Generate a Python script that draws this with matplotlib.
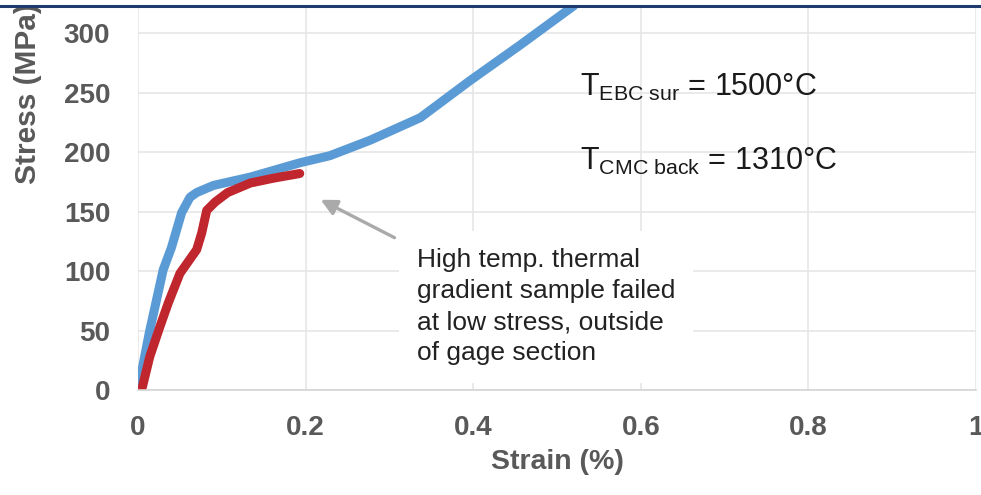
import matplotlib
matplotlib.use("Agg")
import matplotlib.pyplot as plt
from matplotlib.lines import Line2D

plt.rcParams['font.family'] = ['Liberation Sans', 'DejaVu Sans']
plt.rcParams['mathtext.fontset'] = 'custom'
plt.rcParams['mathtext.rm'] = 'Liberation Sans'
plt.rcParams['mathtext.it'] = 'Liberation Sans'

# blue curve (strain %, stress MPa)
blue_strain = [0.0, 0.014, 0.030, 0.040, 0.052, 0.062, 0.070, 0.090, 0.134,
               0.193, 0.229, 0.277, 0.337, 0.396, 0.456, 0.52]
blue_stress = [0, 50, 101, 120, 149, 162, 166, 172, 179,
               191, 197, 210, 229, 260, 290, 323]

# red curve (failed sample)
red_strain = [0.005, 0.014, 0.026, 0.036, 0.050, 0.070, 0.076, 0.082, 0.092,
              0.107, 0.134, 0.161, 0.193]
red_stress = [2, 28, 53, 73, 98, 118, 132, 151, 158,
              166, 174, 178, 182]

x_ticks = [0, 0.2, 0.4, 0.6, 0.8, 1]
x_labels = ['0', '0.2', '0.4', '0.6', '0.8', '1']
y_ticks = [0, 50, 100, 150, 200, 250, 300]

fig = plt.figure(figsize=(9.81, 4.95), dpi=100)
ax = fig.add_axes([0.1407, 0.2121, 0.8542, 0.7738])

# grid
ax.set_xlim(0, 1)
ax.set_ylim(0, 322)
ax.set_xticks(x_ticks)
ax.set_xticklabels(x_labels)
ax.set_yticks(y_ticks)
ax.grid(True, color='#e6e6e6', linewidth=1.2)
ax.set_axisbelow(True)
for side in ['top', 'right', 'left']:
    ax.spines[side].set_visible(False)
ax.spines['bottom'].set_color('#d4d4d4')
ax.spines['bottom'].set_linewidth(1.2)
ax.tick_params(length=0, labelsize=20, labelcolor='#595959')
ax.tick_params(axis='y', pad=20)
ax.tick_params(axis='x', pad=18)
for lab in ax.get_xticklabels() + ax.get_yticklabels():
    lab.set_fontweight('bold')

# curves
ax.plot(blue_strain, blue_stress, color='#5b9bd5', linewidth=6.5,
        solid_capstyle='round', solid_joinstyle='round')
ax.plot(red_strain, red_stress, color='#c0262d', linewidth=6.5,
        solid_capstyle='round', solid_joinstyle='round')

# labels
ax.set_xlabel('Strain (%)', fontsize=20.5, fontweight='bold', color='#595959')
ax.xaxis.set_label_coords(0.5, -0.155)
ax.set_ylabel('Stress (MPa)', fontsize=21.5, fontweight='bold', color='#595959')
ax.yaxis.set_label_coords(-0.115, 0.773)

# temperature notes
ax.text(0.527, 247, r'T$_{\mathrm{EBC\ sur}}$ = 1500°C', fontsize=22,
        color='#1a1a1a', va='baseline')
ax.text(0.527, 185, r'T$_{\mathrm{CMC\ back}}$ = 1310°C', fontsize=22,
        color='#1a1a1a', va='baseline')

# failure note with arrow
ax.annotate('', xy=(0.215, 161), xytext=(0.309, 127),
            arrowprops=dict(arrowstyle='-|>', color='#aaaaaa', lw=2.4,
                            mutation_scale=24))
ax.text(0.333, 119, 'High temp. thermal\ngradient sample failed\n'
        'at low stress, outside\nof gage section',
        fontsize=19, color='#222222', va='top', linespacing=1.36,
        bbox=dict(facecolor='white', edgecolor='none', pad=13))

# navy rule across the top
fig.add_artist(Line2D([0, 1], [1 - 6 / 495, 1 - 6 / 495],
                      color='#1f3a6e', linewidth=2.2))

plt.savefig('out.png', dpi=100)
